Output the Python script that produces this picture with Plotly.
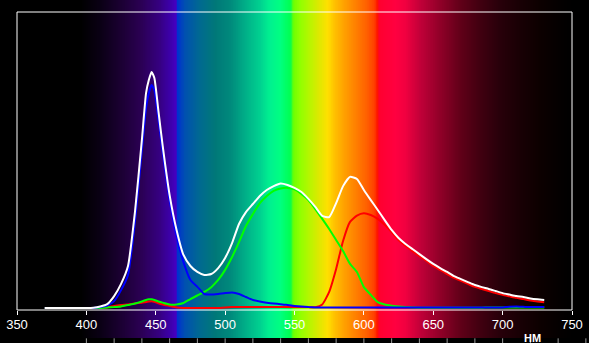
import plotly.graph_objects as go

# ---------------- data ----------------
wavelength = [370, 380, 390, 400, 405, 410, 415, 420, 425, 430, 435, 440, 443, 445, 447, 449, 452, 455,
              460, 465, 470, 475, 480, 485, 490, 495, 500, 505, 510, 515, 520, 525, 530, 535, 540, 545,
              550, 555, 560, 565, 570, 575, 580, 585, 590, 595, 600, 605, 610, 615, 620, 625, 630, 635,
              640, 645, 650, 655, 660, 665, 670, 675, 680, 685, 690, 695, 700, 705, 710, 715, 720, 725, 730]

white = [0, 0, 0, 0, 0.1, 0.5, 1.3, 4.0, 8.1, 14.1, 32.2, 56.4, 72.1, 76.5, 79.2, 77.2, 65.8, 54.4,
         37.9, 26.2, 17.8, 14.1, 12.1, 11.1, 11.4, 13.4, 16.8, 21.8, 28.2, 32.2, 34.9, 37.6, 39.6, 40.9, 41.8, 41.3,
         40.3, 38.9, 36.6, 33.9, 30.9, 30.5, 35.2, 40.9, 44.0, 43.3, 39.6, 36.2, 32.9, 29.5, 26.2, 23.5, 21.5, 19.8,
         18.1, 16.4, 14.8, 13.4, 12.1, 10.7, 9.7, 8.7, 7.7, 7.0, 6.4, 5.7, 5.0, 4.5, 4.0, 3.7, 3.2, 2.9, 2.7]

red = [0, 0, 0, 0, 0, 0, 0.2, 0.7, 1.0, 1.2, 1.5, 1.8, 2.0, 2.2, 2.3, 2.1, 1.6, 1.2,
       0.7, 0.2, 0, 0, 0, 0, 0, 0, 0.2, 0.3, 0.3, 0.3, 0.3, 0.3, 0.3, 0.3, 0.3, 0.3,
       0.3, 0.3, 0.3, 0.3, 1.2, 5.4, 13.1, 22.5, 28.9, 31.0, 31.8, 31.2, 29.9, 27.9, 25.5, 22.8, 20.8, 19.1,
       17.4, 15.8, 14.1, 12.8, 11.4, 10.1, 9.1, 8.1, 7.1, 6.4, 5.7, 5.0, 4.4, 3.9, 3.4, 3.0, 2.5, 2.2, 1.9]

green = [0, 0, 0, 0, 0, 0, 0.2, 0.3, 0.5, 1.0, 1.5, 2.2, 2.7, 2.9, 2.9, 2.7, 2.2, 1.8,
         1.2, 1.2, 1.7, 3.0, 4.2, 5.4, 7.0, 9.4, 12.8, 17.1, 22.1, 27.5, 31.5, 35.2, 37.6, 39.3, 40.1, 40.3,
         39.8, 38.3, 36.2, 33.2, 29.9, 26.5, 22.8, 19.1, 14.8, 12.1, 7.0, 4.4, 2.0, 1.2, 0.8, 0.5, 0.3, 0.2,
         0.1, 0.1, 0.1, 0.1, 0.1, 0.1, 0.1, 0.1, 0.1, 0.1, 0.2, 0.2, 0.2, 0.2, 0.2, 0.2, 0.2, 0.2, 0.2]

blue = [0, 0, 0, 0, 0, 0.3, 0.8, 2.3, 6.0, 11.1, 28.9, 53.0, 67.1, 72.1, 74.8, 73.2, 63.1, 52.3,
        36.2, 24.2, 15.4, 9.4, 7.1, 4.7, 4.5, 4.7, 5.0, 5.2, 4.7, 3.7, 2.7, 2.2, 1.8, 1.5, 1.3, 1.0,
        0.7, 0.5, 0.3, 0.2, 0.2, 0.2, 0.2, 0.2, 0.2, 0.2, 0.2, 0.2, 0.2, 0.2, 0.2, 0.2, 0.2, 0.2,
        0.2, 0.2, 0.2, 0.2, 0.2, 0.2, 0.2, 0.2, 0.2, 0.2, 0.2, 0.2, 0.2, 0.4, 0.5, 0.4, 0.3, 0.3, 0.3]

tick_values = [350, 400, 450, 500, 550, 600, 650, 700, 750]
tick_labels = ["350", "400", "450", "500", "550", "600", "650", "700", "750"]
minor_ticks = list(range(400, 761, 20))
unit_label = "НМ"

# background spectrum colour stops (wavelength, colour)
spectrum_stops = [
    (350, "#000000"), (396, "#000000"), (410, "#0a0014"), (424, "#1a0030"), (439, "#2a0052"),
    (453, "#360082"), (460, "#3c00a8"), (464.5, "#4400c0"), (465.5, "#0030d0"), (471, "#0050b0"),
    (482, "#006a90"), (493, "#007878"), (504, "#008a7c"), (515, "#00b088"), (525, "#00d090"),
    (532, "#00f090"), (540, "#00ff80"), (547, "#00ff50"), (549.5, "#70ff00"), (554, "#90ff00"),
    (561, "#b8f500"), (568, "#e0e800"), (574, "#ffe000"), (579, "#ffc000"), (586, "#ffa000"),
    (594, "#ff8000"), (602, "#ff6000"), (607.5, "#ff4000"), (610, "#ff1000"), (611.5, "#ff0030"),
    (623, "#ff0040"), (630, "#f00040"), (641, "#c00038"), (655, "#900028"), (670, "#600018"),
    (684, "#400010"), (698, "#28000a"), (713, "#180004"), (727, "#0c0000"), (741, "#040000"),
    (750, "#000000"),
]
spectrum_colorscale = [[(w - 350) / 400, c] for w, c in spectrum_stops]
spectrum_x = [350 + 0.5 * i + 0.25 for i in range(800)]

fig = go.Figure()

# background spectrum band (full height of page area)
fig.add_trace(go.Heatmap(x=spectrum_x, y=[0], z=[spectrum_x], zmin=350, zmax=750,
                         colorscale=spectrum_colorscale, showscale=False, hoverinfo="skip",
                         xaxis="x", yaxis="y"))

series = [("Красный", red, "#ff0000"), ("Зелёный", green, "#00ff00"),
          ("Синий", blue, "#0000ff"), ("Белый", white, "#ffffff")]
for name, vals, col in series:
    fig.add_trace(go.Scatter(x=wavelength, y=vals, mode="lines", name=name,
                             line=dict(color=col, width=2, shape="spline", smoothing=0.5),
                             hoverinfo="skip", xaxis="x", yaxis="y2"))

shapes = [dict(type="rect", xref="x domain", yref="y2 domain", x0=0, x1=1, y0=0, y1=1,
               line=dict(color="#ffffff", width=1), fillcolor="rgba(0,0,0,0)", layer="above")]
for m in minor_ticks:
    shapes.append(dict(type="line", xref="x domain", yref="paper",
                       x0=(m - 350) / 400, x1=(m - 350) / 400, y0=-0.001, y1=-0.02,
                       line=dict(color="#9a9a9a", width=1)))

H = 343
plot_h = 338
frame_top, frame_bottom = 12, 310

fig.update_layout(
    width=589, height=H,
    margin=dict(l=17, r=17, t=0, b=H - plot_h, pad=0),
    paper_bgcolor="#000000", plot_bgcolor="rgba(0,0,0,0)",
    showlegend=False,
    shapes=shapes,
    font=dict(family="Liberation Sans, Arial, sans-serif", color="#ffffff", size=13),
    annotations=[dict(text="<b>" + unit_label + "</b>", xref="paper", yref="paper",
                      x=0.928, y=0.0, xanchor="center", yanchor="middle", showarrow=False,
                      font=dict(size=11, color="#ffffff"))],
    xaxis=dict(range=[350, 750], tickvals=tick_values, ticktext=tick_labels, anchor="y2",
               ticks="outside", ticklen=4, tickcolor="#ffffff", tickwidth=1,
               ticklabelstandoff=-2,
               showline=False, showgrid=False, zeroline=False, automargin=False,
               tickfont=dict(size=13, color="#ffffff")),
    yaxis=dict(range=[-0.5, 0.5], domain=[0, 1], visible=False, automargin=False),
    yaxis2=dict(range=[-0.67, 99.33],
                domain=[(plot_h - frame_bottom) / plot_h, (plot_h - frame_top) / plot_h],
                showticklabels=False, ticks="", showline=False, showgrid=False,
                zeroline=False, automargin=False, anchor="x"),
)

fig.write_html("out.html")
